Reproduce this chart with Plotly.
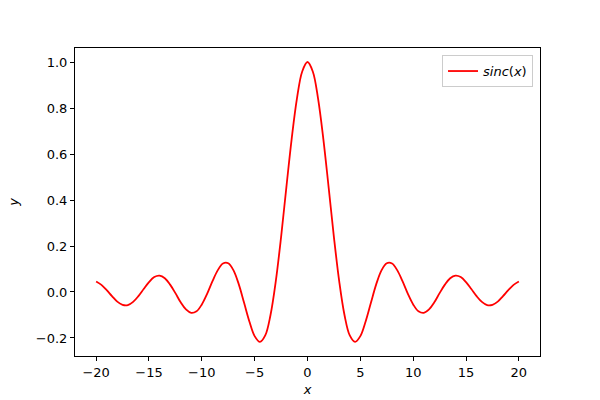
import plotly.graph_objects as go

# values (right half; curve is symmetric about x=0)
x_right = [0, 0.5, 1, 1.5, 2, 2.5, 3, 3.5, 4, 4.5, 5, 5.5, 6, 6.5, 7, 7.5, 8, 8.5, 9, 9.5,
           10, 10.5, 11, 11.5, 12, 12.5, 13, 13.5, 14, 14.5, 15, 15.5, 16, 16.5, 17, 17.5,
           18, 18.5, 19, 19.5, 20]
y_right = [1.0, 0.959, 0.841, 0.665, 0.455, 0.239, 0.047, -0.100, -0.189, -0.217, -0.192,
           -0.128, -0.047, 0.033, 0.094, 0.125, 0.124, 0.094, 0.046, -0.008,
           -0.054, -0.084, -0.091, -0.076, -0.045, -0.005, 0.032, 0.060, 0.071, 0.065,
           0.043, 0.013, -0.018, -0.043, -0.057, -0.056, -0.042, -0.018, 0.008, 0.031, 0.046]

x_vals = [-v for v in x_right[:0:-1]] + x_right
y_vals = y_right[:0:-1] + y_right

x_ticks = [-20, -15, -10, -5, 0, 5, 10, 15, 20]
y_ticks = [-0.2, 0.0, 0.2, 0.4, 0.6, 0.8, 1.0]

fig = go.Figure()
fig.add_trace(go.Scatter(x=x_vals, y=y_vals, mode="lines",
                         line=dict(color="red", width=1.8, shape="spline", smoothing=1.0),
                         name="<i>sinc</i>(<i>x</i>)"))

axis_common = dict(showline=True, linecolor="black", linewidth=1, mirror=True,
                   ticks="outside", ticklen=4, tickcolor="black", tickwidth=1,
                   showgrid=False, zeroline=False, automargin=False,
                   tickfont=dict(family="DejaVu Sans", size=13, color="black"))

fig.update_layout(
    width=600, height=400,
    margin=dict(l=75, r=60, t=48, b=44),
    paper_bgcolor="white", plot_bgcolor="white",
    font=dict(family="DejaVu Sans", size=13, color="black"),
    xaxis=dict(range=[-22, 22], tickvals=x_ticks, ticktext=[str(v).replace("-", "−") for v in x_ticks],
               title=dict(text="<i>x</i>", standoff=6, font=dict(size=13)), **axis_common),
    yaxis=dict(range=[-0.2783, 1.0609], tickvals=y_ticks, tickformat=".1f",
               title=dict(text="<i>y</i>", standoff=14, font=dict(size=13)), **axis_common),
    showlegend=True,
    legend=dict(x=0.985, y=0.977, xanchor="right", yanchor="top",
                bordercolor="#cccccc", borderwidth=1, bgcolor="rgba(255,255,255,0.8)",
                font=dict(family="DejaVu Sans", size=13)),
)

fig.write_html("out.html", config={"displayModeBar": False},
               post_script="document.body.style.margin='0';document.body.style.overflow='hidden';")
